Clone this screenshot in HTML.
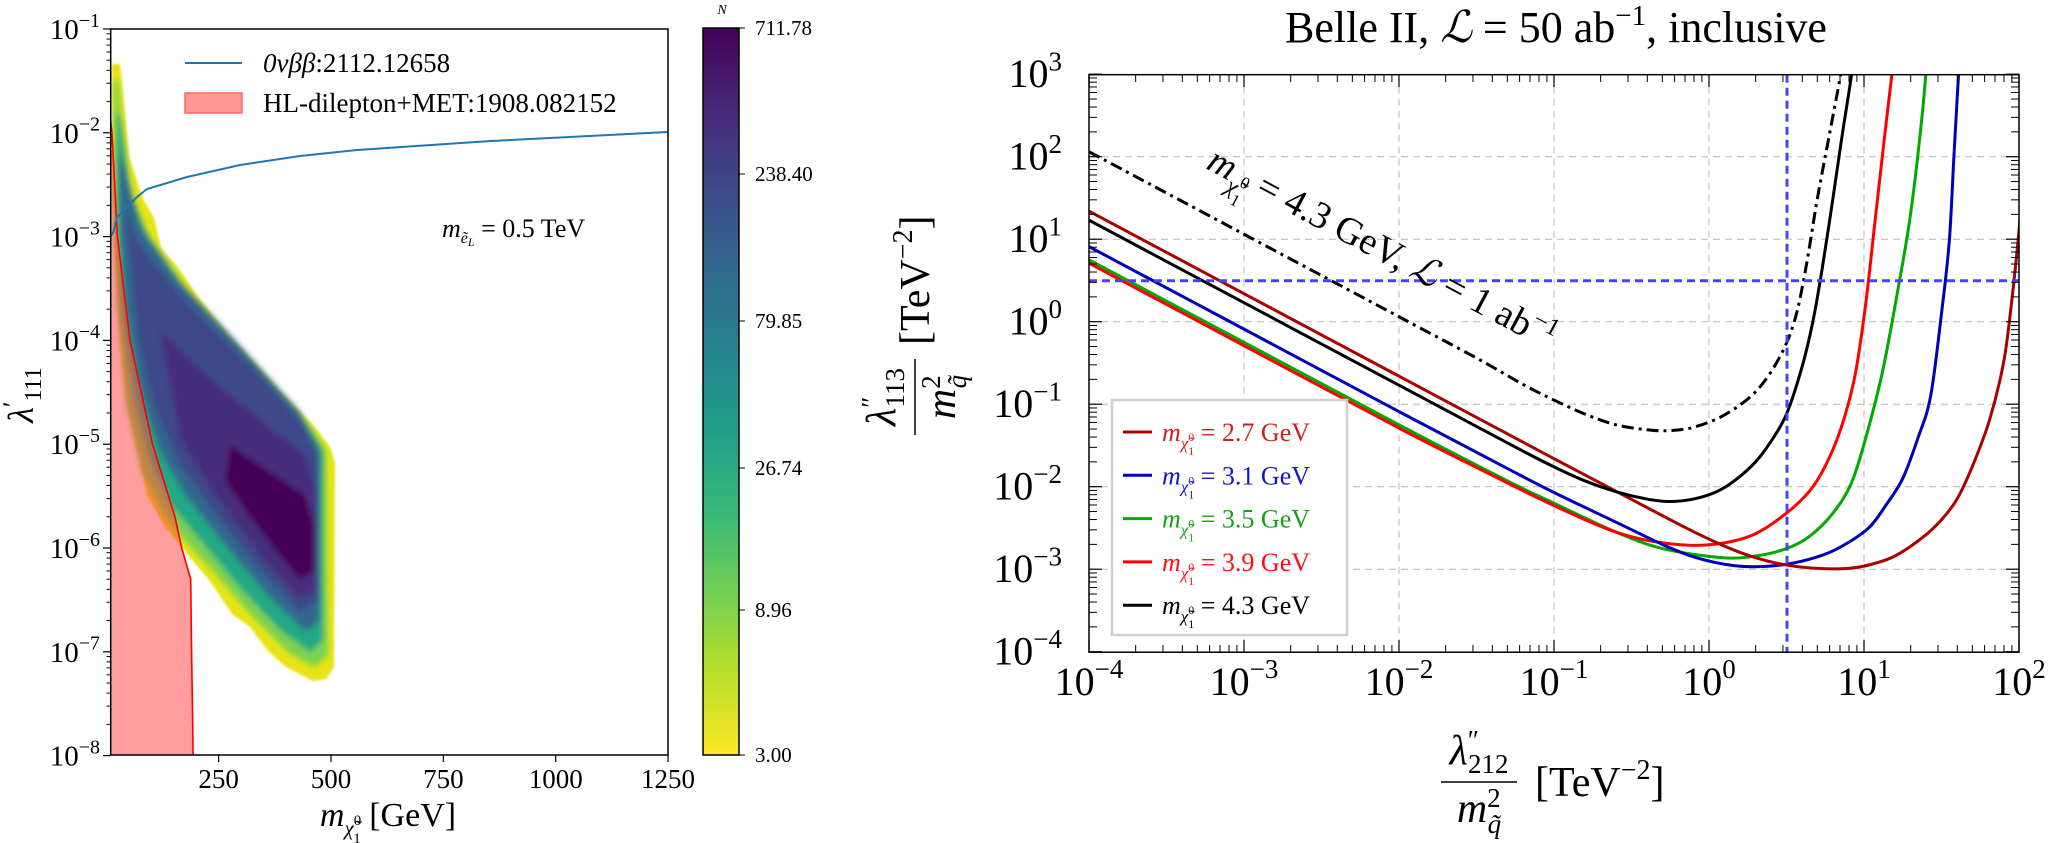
<!DOCTYPE html>
<html><head><meta charset="utf-8">
<style>
html,body{margin:0;padding:0;background:#fff;}
svg{display:block;}
text{font-family:"Liberation Serif","DejaVu Serif",serif;fill:#000;}
.it{font-style:italic;}
</style></head>
<body>
<svg id="s" width="2048" height="843" viewBox="0 0 2048 843" xmlns="http://www.w3.org/2000/svg">
<defs>
<linearGradient id="vir" x1="0" y1="0" x2="0" y2="1">
<stop offset="0" stop-color="#440154"/><stop offset="0.11" stop-color="#482878"/>
<stop offset="0.22" stop-color="#3e4989"/><stop offset="0.33" stop-color="#31688e"/>
<stop offset="0.44" stop-color="#26828e"/><stop offset="0.55" stop-color="#1f9e89"/>
<stop offset="0.66" stop-color="#35b779"/><stop offset="0.77" stop-color="#6ece58"/>
<stop offset="0.88" stop-color="#b5de2b"/><stop offset="1" stop-color="#fde725"/>
</linearGradient>
<filter id="bl" x="-20%" y="-20%" width="140%" height="140%"><feGaussianBlur stdDeviation="3"/></filter>
<filter id="bl2" x="-20%" y="-20%" width="140%" height="140%"><feGaussianBlur stdDeviation="1"/></filter>
<clipPath id="cl"><rect x="110.7" y="29" width="557.3" height="726"/></clipPath>
<clipPath id="cr"><rect x="1089" y="74.7" width="930" height="577.5"/></clipPath>
</defs>

<g clip-path="url(#cl)">
<polygon filter="url(#bl2)" fill="#e6e419" points="112,64 120,64 123,91 129,156 143,199 154,218 161,248 179,269 201,301 232,339 250,358 277,388 313,425 330,447 335,463 334,667 326,679 313,681 286,667 268,651 250,627 232,614 210,581 192,560 179,544 165,527 147,495 136,441 129,409 121,350 115,258 112,161"/>
<g filter="url(#bl)">
<polygon fill="#7ad151" points="114,80 118,80 124,150 136,210 152,240 195,300 245,355 305,420 326,450 328,655 314,667 288,652 252,616 212,570 184,540 164,514 142,472 126,404 117,302 114,200"/>
<polygon fill="#22a884" points="116,110 121,120 130,190 147,235 190,295 240,348 300,412 323,450 323,640 310,652 280,630 240,588 200,540 170,505 150,462 134,402 122,320 117,232"/>
<polygon fill="#31688e" points="118,150 124,165 140,225 178,280 235,340 298,410 320,450 320,620 306,632 272,600 225,545 185,495 158,448 140,390 126,310 120,235"/>
<polygon fill="#3e4989" points="125,210 140,245 180,295 240,355 300,420 318,455 318,600 300,612 265,575 220,520 180,465 155,410 138,340"/>
<polygon fill="#472d7b" points="160,330 200,370 255,415 305,455 316,490 316,590 298,598 260,555 215,495 180,440"/>
<polygon fill="#440154" points="230,445 275,475 305,495 314,525 314,570 300,580 275,550 245,510 225,480"/>
</g>
<polygon fill="rgba(255,60,60,0.5)" points="110.7,121.4 112,132.8 117.4,236.6 130,340.4 143.5,402.7 152.5,444.2 175,516.9 181.7,548 190.7,579.1 191.6,651.8 193,745 193,755 110.7,755"/>
<polyline fill="none" stroke="#ff0000" stroke-width="1.6" points="110.7,121.4 112,132.8 117.4,236.6 130,340.4 143.5,402.7 152.5,444.2 175,516.9 181.7,548 190.7,579.1 191.6,651.8 193,745 193,755"/>
<polyline fill="none" stroke="#1f77b4" stroke-width="2" points="110.7,236.6 113,233 117,217 137,197 147,189 187,177 240,165 300,156 357,150 491,141 668,132"/>
</g>
<rect x="110.7" y="29" width="557.3" height="726" fill="none" stroke="#000" stroke-width="1.5"/>
<g id="lt"></g>
<line x1="185" y1="63" x2="242" y2="63" stroke="#1f77b4" stroke-width="2"/>
<text x="263" y="72" font-size="27"><tspan class="it">0νββ</tspan>:2112.12658</text>
<rect x="185" y="93" width="57" height="20" fill="#ff9999" stroke="#ff6666" stroke-width="1.5"/>
<text x="263" y="112" font-size="27">HL-dilepton+MET:1908.082152</text>
<text x="442" y="237" font-size="26"><tspan class="it">m</tspan><tspan class="it" font-size="16" dy="6">ẽ</tspan><tspan class="it" font-size="12" dy="3">L</tspan><tspan dy="-9"> = 0.5 TeV</tspan></text>
<text x="388" y="826" font-size="34" text-anchor="middle"><tspan class="it">m</tspan><tspan class="it" font-size="21" dy="9">χ̃</tspan><tspan font-size="15" dy="-10">0</tspan><tspan font-size="15" dx="-8" dy="18">1</tspan><tspan dy="-17"> [GeV]</tspan></text>
<text transform="translate(33,395) rotate(-90)" font-size="36" text-anchor="middle"><tspan class="it">λ</tspan><tspan font-size="26" dy="-12">′</tspan><tspan font-size="24" dy="20">111</tspan></text>
<rect x="703" y="28" width="36" height="727" fill="url(#vir)" stroke="#000" stroke-width="1.5"/>
<text x="722" y="14" font-size="14" class="it" text-anchor="middle">N</text>
<g font-size="21">
<line x1="739" y1="28" x2="745" y2="28" stroke="#000"/><text x="755" y="35">711.78</text>
<line x1="739" y1="174" x2="745" y2="174" stroke="#000"/><text x="755" y="181">238.40</text>
<line x1="739" y1="321" x2="745" y2="321" stroke="#000"/><text x="755" y="328">79.85</text>
<line x1="739" y1="468" x2="745" y2="468" stroke="#000"/><text x="755" y="475">26.74</text>
<line x1="739" y1="610" x2="745" y2="610" stroke="#000"/><text x="755" y="617">8.96</text>
<line x1="739" y1="755" x2="745" y2="755" stroke="#000"/><text x="755" y="762">3.00</text>
</g>

<text x="1556" y="42" font-size="44" text-anchor="middle">Belle II, <tspan class="it">ℒ</tspan> = 50 ab<tspan font-size="29" dy="-17">−1</tspan><tspan dy="17">,  inclusive</tspan></text>
<g id="rg"></g>
<g clip-path="url(#cr)" id="rc"></g>
<rect x="1089" y="74.7" width="930" height="577.5" fill="none" stroke="#000" stroke-width="1.5"/>
<g id="rt"></g>
<text transform="translate(1205,168) rotate(28)" font-size="38"><tspan class="it">m</tspan><tspan class="it" font-size="24" dy="11">χ̃</tspan><tspan font-size="17" dy="-11">0</tspan><tspan font-size="17" dx="-9" dy="20">1</tspan><tspan dy="-20"> = 4.3 GeV, </tspan><tspan class="it">ℒ</tspan><tspan> = 1 ab</tspan><tspan font-size="25" dy="-15">−1</tspan></text>
<rect x="1112" y="400" width="235" height="235" fill="#fff" stroke="#d0d0d0" stroke-width="2.5"/>
<g id="leg"></g>
<text x="1479" y="764" font-size="42" text-anchor="middle"><tspan class="it">λ</tspan><tspan font-size="27" dy="-15">″</tspan><tspan font-size="27" dx="-11" dy="24">212</tspan></text>
<line x1="1441" y1="782" x2="1517" y2="782" stroke="#000" stroke-width="1.5"/>
<text x="1479" y="822" font-size="42" text-anchor="middle"><tspan class="it">m</tspan><tspan font-size="27" dy="-15">2</tspan><tspan class="it" font-size="27" dx="-13" dy="26">q̃</tspan></text>
<text x="1535" y="796" font-size="42">[TeV<tspan font-size="28" dy="-17">−2</tspan><tspan dy="17">]</tspan></text>
<g transform="translate(915,345) rotate(-90)">
<text x="-52" y="-20" font-size="42" text-anchor="middle"><tspan class="it">λ</tspan><tspan font-size="27" dy="-15">″</tspan><tspan font-size="27" dx="-11" dy="24">113</tspan></text>
<line x1="-90" y1="0" x2="-14" y2="0" stroke="#000" stroke-width="1.5"/>
<text x="-52" y="40" font-size="42" text-anchor="middle"><tspan class="it">m</tspan><tspan font-size="27" dy="-15">2</tspan><tspan class="it" font-size="27" dx="-13" dy="26">q̃</tspan></text>
<text x="0" y="14" font-size="42">[TeV<tspan font-size="28" dy="-17">−2</tspan><tspan dy="17">]</tspan></text>
</g>
</svg>
<script>
(function(){
var NS="http://www.w3.org/2000/svg";
function el(p,t,a,txt){var e=document.createElementNS(NS,t);for(var k in a)e.setAttribute(k,a[k]);if(txt!==undefined)e.textContent=txt;p.appendChild(e);return e;}
function pow(p,x,y,exp,fs,anchor){var t=el(p,"text",{x:x,y:y,"font-size":fs,"text-anchor":anchor});
 var a=document.createElementNS(NS,"tspan");a.textContent="10";t.appendChild(a);
 var b=document.createElementNS(NS,"tspan");b.setAttribute("font-size",Math.round(fs*0.68));b.setAttribute("dy",-fs*0.42);b.textContent=exp;t.appendChild(b);}
var lt=document.getElementById("lt");
for(var e=-1;e>=-8;e--){var y=29+(-1-e)*103.8;
 el(lt,"line",{x1:103,y1:y,x2:110.7,y2:y,stroke:"#000","stroke-width":1.2});
 pow(lt,100,y+10,(e<0?"−":"")+Math.abs(e),29,"end");
 if(e>-8)for(var m=2;m<10;m++){var yy=y+103.8-Math.log10(m)*103.8;el(lt,"line",{x1:106.5,y1:yy,x2:110.7,y2:yy,stroke:"#000","stroke-width":1});}
}
[250,500,750,1000,1250].forEach(function(v){var x=331+(v-500)*0.4494;
 el(lt,"line",{x1:x,y1:755,x2:x,y2:762,stroke:"#000","stroke-width":1.2});
 el(lt,"text",{x:x,y:788,"font-size":27,"text-anchor":"middle"},String(v));});
var X0=1089,Y0=321.7,DX=155,DY=82.5;
function px(X){return X0+(X+4)*DX;} function py(Y){return Y0-Y*DY;}
var rg=document.getElementById("rg"),rt=document.getElementById("rt");
for(var i=-3;i<=1;i++){el(rg,"line",{x1:px(i),y1:74.7,x2:px(i),y2:652.2,stroke:"#b8b8b8","stroke-width":1,"stroke-dasharray":"7,5"});}
for(var j=-3;j<=2;j++){el(rg,"line",{x1:1089,y1:py(j),x2:2019,y2:py(j),stroke:"#b8b8b8","stroke-width":1,"stroke-dasharray":"7,5"});}
for(var i=-4;i<=2;i++){var x=px(i);
 el(rt,"line",{x1:x,y1:652.2,x2:x,y2:640,stroke:"#000","stroke-width":1.2});
 el(rt,"line",{x1:x,y1:74.7,x2:x,y2:87,stroke:"#000","stroke-width":1.2});
 pow(rt,x,695,(i<0?"−":"")+Math.abs(i),40,"middle");
 if(i<2)for(var m=2;m<10;m++){var xx=x+Math.log10(m)*DX;
  el(rt,"line",{x1:xx,y1:652.2,x2:xx,y2:645,stroke:"#000","stroke-width":1});
  el(rt,"line",{x1:xx,y1:74.7,x2:xx,y2:82,stroke:"#000","stroke-width":1});}}
for(var j=-4;j<=3;j++){var y=py(j);
 el(rt,"line",{x1:1089,y1:y,x2:1102,y2:y,stroke:"#000","stroke-width":1.2});
 el(rt,"line",{x1:2019,y1:y,x2:2006,y2:y,stroke:"#000","stroke-width":1.2});
 pow(rt,1062,y+13,(j<0?"−":"")+Math.abs(j),40,"end");
 if(j<3)for(var m=2;m<10;m++){var yy=y-Math.log10(m)*DY;
  el(rt,"line",{x1:1089,y1:yy,x2:1097,y2:yy,stroke:"#000","stroke-width":1});
  el(rt,"line",{x1:2019,y1:yy,x2:2011,y2:yy,stroke:"#000","stroke-width":1});}}
var rc=document.getElementById("rc");
function curve(pts,col,w,dash){
 var P=pts.map(function(p){return [px(p[0]),py(p[1])];});
 var d="M"+P[0][0]+","+P[0][1];
 for(var k=0;k<P.length-1;k++){var p0=P[k-1]||P[k],p1=P[k],p2=P[k+1],p3=P[k+2]||P[k+1];
  var c1=[p1[0]+(p2[0]-p0[0])/6,p1[1]+(p2[1]-p0[1])/6],c2=[p2[0]-(p3[0]-p1[0])/6,p2[1]-(p3[1]-p1[1])/6];
  d+=" C"+c1[0]+","+c1[1]+" "+c2[0]+","+c2[1]+" "+p2[0]+","+p2[1];}
 var a={d:d,fill:"none",stroke:col,"stroke-width":w};if(dash)a["stroke-dasharray"]=dash;el(rc,"path",a);}
function lin(c,a,b){var r=[];for(var X=a;X<=b+1e-9;X+=0.5)r.push([X,c-X]);return r;}
curve(lin(-1.94,-4,-1.5).concat([[-1.2,-0.76],[-1,-0.95],[-0.8,-1.12],[-0.6,-1.25],[-0.4,-1.31],[-0.26,-1.32],[-0.1,-1.28],[0.1,-1.13],[0.3,-0.85],[0.45,-0.45],[0.55,0.0],[0.62,0.6],[0.7,1.5],[0.78,2.3],[0.86,3.1],[0.9,3.6]]),"#000",3,"12,5,3,5");
curve([[-4,0.75],[-3,-0.25],[-2,-1.25],[-1.3,-1.93],[-1,-2.2],[-0.6,-2.55],[-0.3,-2.75],[0.08,-2.86],[0.3,-2.84],[0.5,-2.75],[0.65,-2.6],[0.8,-2.32],[0.92,-1.95],[1.02,-1.35],[1.12,-0.6],[1.22,0.4],[1.3,1.3],[1.375,2.5],[1.42,3.5]],"#00aa00",3);
curve([[-4,0.71],[-3,-0.29],[-2,-1.29],[-1.4,-1.86],[-1.1,-2.14],[-0.8,-2.4],[-0.6,-2.55],[-0.4,-2.65],[-0.13,-2.71],[0.1,-2.68],[0.3,-2.57],[0.5,-2.32],[0.65,-2.05],[0.75,-1.75],[0.85,-1.3],[0.94,-0.67],[1.01,0.2],[1.07,1.2],[1.13,2.2],[1.18,3.0],[1.22,3.6]],"#ff0000",3);
curve([[-4,0.91],[-3,-0.09],[-2,-1.09],[-1.3,-1.78],[-1,-2.07],[-0.6,-2.43],[-0.3,-2.7],[-0.1,-2.85],[0.1,-2.94],[0.28,-2.97],[0.5,-2.94],[0.7,-2.85],[0.85,-2.73],[1.03,-2.5],[1.15,-2.2],[1.25,-1.9],[1.35,-1.4],[1.43,-0.9],[1.5,0.1],[1.55,0.97],[1.58,2.0],[1.61,3.0],[1.63,3.6]],"#0000bb",3);
curve([[-4,1.34],[-3,0.34],[-2,-0.66],[-1,-1.66],[-0.2,-2.45],[0.1,-2.72],[0.3,-2.86],[0.5,-2.95],[0.7,-2.99],[0.9,-2.99],[1.05,-2.94],[1.2,-2.84],[1.375,-2.62],[1.5,-2.4],[1.6,-2.15],[1.7,-1.75],[1.81,-1.19],[1.9,-0.5],[1.95,0.2],[2.0,1.1],[2.02,1.6]],"#aa0000",3);
curve([[-4,1.23],[-3,0.23],[-2,-0.77],[-1.3,-1.47],[-1,-1.76],[-0.8,-1.93],[-0.6,-2.06],[-0.4,-2.15],[-0.26,-2.18],[-0.1,-2.15],[0.05,-2.06],[0.17,-1.92],[0.3,-1.7],[0.4,-1.45],[0.5,-1.12],[0.6,-0.55],[0.67,0.0],[0.73,0.64],[0.8,1.5],[0.86,2.27],[0.92,3.0],[0.95,3.5]],"#000",3);
el(rc,"line",{x1:1089,y1:py(0.497),x2:2019,y2:py(0.497),stroke:"#4444ff","stroke-width":3,"stroke-dasharray":"8,5"});
el(rc,"line",{x1:1787,y1:74.7,x2:1787,y2:652.2,stroke:"#4444ff","stroke-width":3,"stroke-dasharray":"8,5"});
var leg=document.getElementById("leg");
[["#aa0000","2.7","#cc2222"],["#0000bb","3.1","#1515cc"],["#00aa00","3.5","#16a016"],["#ff0000","3.9","#ff1010"],["#000","4.3","#000"]].forEach(function(r,k){
 var y=432+k*43.3;
 el(leg,"line",{x1:1123,y1:y,x2:1152,y2:y,stroke:r[0],"stroke-width":3});
 var t=el(leg,"text",{x:1162,y:y+9,"font-size":26,style:"fill:"+r[2]});
 var s=[["m","it",0,""],["χ̃","it",8,17],["0","",-8,12],["1","",14,12],[" = "+r[1]+" GeV","",-14,""]];
 s.forEach(function(q,i){var ts=document.createElementNS(NS,"tspan");ts.textContent=q[0];if(q[1])ts.setAttribute("class","it");
  if(q[2])ts.setAttribute("dy",q[2]);if(q[3])ts.setAttribute("font-size",q[3]);if(i==3)ts.setAttribute("dx",-6);ts.setAttribute("style","fill:"+r[2]);t.appendChild(ts);});
});
})();
</script>
</body></html>
